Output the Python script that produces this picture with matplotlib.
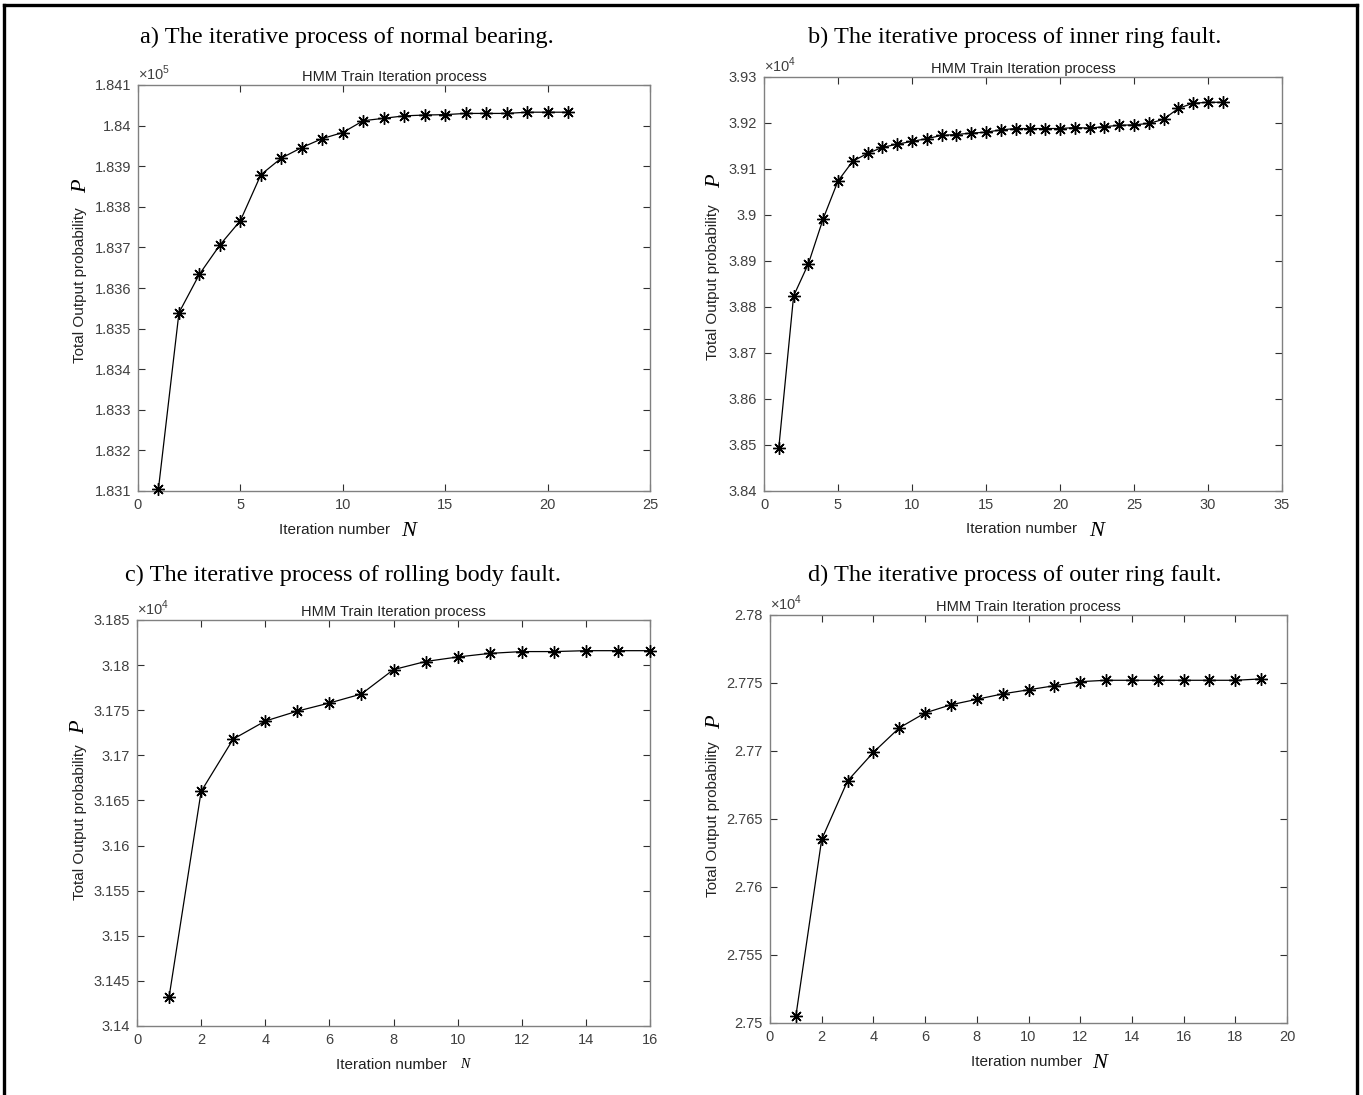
import matplotlib
matplotlib.use("Agg")
import matplotlib.pyplot as plt
import numpy as np
from matplotlib.lines import Line2D
from matplotlib.ticker import FuncFormatter

# total output probability per HMM training iteration
normal_p = [183106, 183539, 183634, 183706, 183766, 183879, 183920, 183946,
            183968, 183983, 184012, 184018, 184024, 184026, 184027, 184030,
            184030, 184030, 184033, 184033, 184033]
inner_p = [38494, 38824, 38894, 38992, 39074, 39117, 39134, 39147, 39154,
           39160, 39166, 39173, 39175, 39178, 39180, 39185, 39188, 39188,
           39188, 39188, 39190, 39189, 39192, 39195, 39196, 39199, 39208,
           39232, 39243, 39245, 39245]
rolling_p = [31432, 31660, 31718, 31738, 31749, 31758, 31768, 31795, 31804,
             31809, 31813, 31815, 31815, 31816, 31816, 31816]
outer_p = [27505, 27635, 27678, 27699, 27717, 27728, 27734, 27738, 27742,
           27745, 27748, 27751, 27752, 27752, 27752, 27752, 27752, 27752,
           27753]

headings = ["a) The iterative process of normal bearing.",
            "b) The iterative process of inner ring fault.",
            "c) The iterative process of rolling body fault.",
            "d) The iterative process of outer ring fault."]
exponents = [5, 4, 4, 4]
x_limits = [(0, 25, 5), (0, 35, 5), (0, 16, 2), (0, 20, 2)]
y_limits = [(183100, 184100, 100), (38400, 39300, 100),
            (31400, 31850, 50), (27500, 27800, 50)]

W, H = 1363, 1095
# axes boxes in pixels: left, top, right, bottom
boxes = [(138, 85, 650, 491), (764, 77, 1282, 491),
         (137, 620, 650, 1026), (770, 615, 1287, 1023)]
heading_xy = [(347, 37), (1015, 37), (343, 575), (1015, 575)]
ylabel_xy = [(80, 285), (713, 282), (80, 822), (713, 819)]
p_xy = [(82, 186), (716, 181), (80, 727), (716, 722)]
xlabel_xy = [(335, 530), (1022, 529), (392, 1065), (1027, 1062)]
n_xy = [(409, 531), (1097, 531), (465, 1064), (1100, 1063)]
n_size = [16, 16, 10, 16]

plt.rcParams["font.family"] = "Liberation Sans"
plt.rcParams["mathtext.fontset"] = "custom"
plt.rcParams["mathtext.rm"] = "Liberation Sans"

AX_GREY = "#808080"
TXT_GREY = "#404040"


def fx(x, y):
    return x / W, 1 - y / H


fig = plt.figure(figsize=(W / 100, H / 100), dpi=100)

# page frame (left, top, right edges)
frame = [((4, 4), (5, H)), ((4, 1357), (5, 5)), ((1357, 1357), (5, H))]
for xs, ys in frame:
    fig.add_artist(Line2D([x / W for x in xs], [1 - y / H for y in ys],
                          color="black", lw=2.4, transform=fig.transFigure))

series = [normal_p, inner_p, rolling_p, outer_p]
for i, values in enumerate(series):
    l, t, r, b = boxes[i]
    ax = fig.add_axes([l / W, 1 - b / H, (r - l) / W, (b - t) / H])
    n = np.arange(1, len(values) + 1)
    ax.plot(n, values, color="black", lw=0.9, marker=(8, 2, 0),
            markersize=9, markeredgewidth=1.0, clip_on=False, zorder=3)

    x0, x1, dx = x_limits[i]
    y0, y1, dy = y_limits[i]
    ax.set_xlim(x0, x1)
    ax.set_ylim(y0, y1)
    ax.set_xticks(np.arange(x0, x1 + dx / 2, dx))
    ax.set_yticks(np.arange(y0, y1 + dy / 2, dy))
    scale = 10 ** exponents[i]
    ax.yaxis.set_major_formatter(
        FuncFormatter(lambda v, pos, s=scale: "%g" % round(v / s, 6)))

    for sp in ax.spines.values():
        sp.set_color(AX_GREY)
        sp.set_linewidth(1.0)
    ax.tick_params(direction="in", length=5, width=0.8, color="#303030",
                   top=True, right=True, labelsize=10.5, labelcolor=TXT_GREY,
                   pad=5)

    ax.set_title("HMM Train Iteration process", fontsize=10.5,
                 color="#222222", pad=3)
    ax.text(0.0, 1.004, r"$\times10^{%d}$" % exponents[i],
            transform=ax.transAxes, fontsize=10.5, color=TXT_GREY,
            ha="left", va="bottom")

    fig.text(*fx(*heading_xy[i]), headings[i], family="Liberation Serif",
             fontsize=17.5, ha="center", va="center")
    fig.text(*fx(*ylabel_xy[i]), "Total Output probability", rotation=90,
             fontsize=11, color="#222222", ha="center", va="center")
    fig.text(*fx(*p_xy[i]), "P", rotation=90, family="Liberation Serif",
             fontstyle="italic", fontsize=16, ha="center", va="center")
    fig.text(*fx(*xlabel_xy[i]), "Iteration number", fontsize=11,
             color="#222222", ha="center", va="center")
    fig.text(*fx(*n_xy[i]), "N", family="Liberation Serif",
             fontstyle="italic", fontsize=n_size[i], ha="center",
             va="center")

fig.savefig("out.png", dpi=100)
